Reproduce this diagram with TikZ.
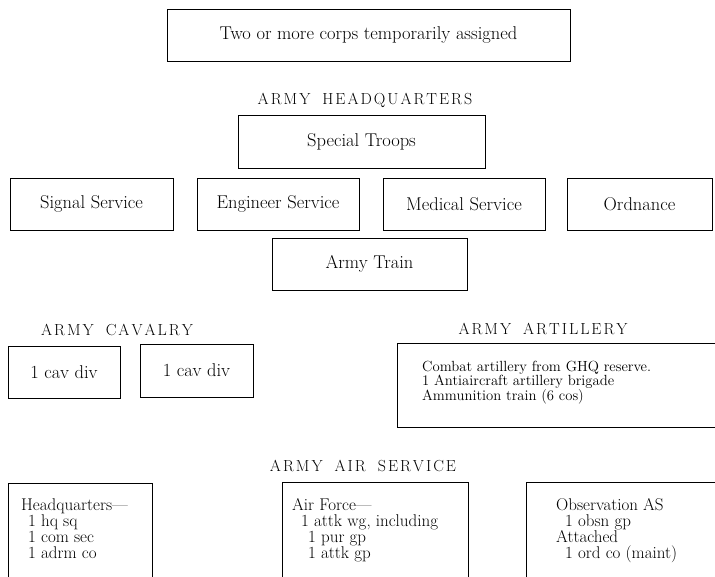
\documentclass[tikz,border=0pt]{standalone}
\usepackage{tikz}
\usetikzlibrary{positioning}
% spaced capitals for the headings
\def\spcaps#1{\spcapsi#1\relax}
\def\spcapsi#1{\ifx#1\relax\else#1\kern2pt\expandafter\spcapsi\fi}
\newcommand{\wgap}{\hspace{8pt}}
\tikzset{
  unitbox/.style={draw, line width=0.7pt, inner sep=0pt, font=\fontsize{18.5}{20}\selectfont},
  heading/.style={inner sep=0pt, font=\fontsize{16}{18}\selectfont},
  listtext/.style={anchor=north west, align=left, inner sep=0pt},
  openbox/.style={draw, line width=0.7pt, inner sep=0pt}
}

\begin{document}
\begin{tikzpicture}[x=1pt, y=-1pt]
\clip (0,0) rectangle (715,576);
\node[unitbox, minimum width=403, minimum height=52] (corps) at (368.5,35) {Two or more corps temporarily assigned};

\node[heading] (armyhq) at (366,100) {\spcaps{ARMY\wgap HEADQUARTERS}};
\node[unitbox, minimum width=247, minimum height=53] (sptroops) at (361.5,141.5) {Special Troops};
\node[unitbox, minimum width=163, minimum height=52] (sigsvc) at (91.5,204) {Signal Service};
\node[unitbox, minimum width=162, minimum height=52] (engsvc) at (278,204) {Engineer Service};
\node[unitbox, minimum width=162, minimum height=52] (medsvc) at (464,204) {Medical Service};
\node[unitbox, minimum width=145, minimum height=52] (ordn) at (639.5,204) {Ordnance};
\node[unitbox, minimum width=195, minimum height=52] (armytrain) at (369.5,264) {Army Train};

\node[heading] (armycav) at (118,330) {\spcaps{ARMY\wgap CAVALRY}};
\node[unitbox, minimum width=112, minimum height=52] (cavdiva) at (64,372) {1 cav div};
\node[unitbox, minimum width=113, minimum height=53] (cavdivb) at (196.5,370.5) {1 cav div};

\node[heading] (armyart) at (544,329) {\spcaps{ARMY\wgap ARTILLERY}};
\node[openbox, minimum width=333, minimum height=84] (artbox) at (563.5,385) {};
\node[listtext, font=\fontsize{14.7}{14}\selectfont] (arttext) at (422,361)
  {Combat artillery from GHQ reserve.\\1 Antiaircraft artillery brigade\\Ammunition train (6 cos)};

\node[heading] (airsvc) at (364,466) {\spcaps{ARMY\wgap AIR\wgap SERVICE}};
\node[openbox, minimum width=144, minimum height=116] (hqbox) at (80,541) {};
\node[openbox, minimum width=186, minimum height=116] (afbox) at (375,540) {};
\node[openbox, minimum width=204, minimum height=116] (obsbox) at (628,540) {};
\node[listtext, font=\fontsize{17}{16}\selectfont] (hqtext) at (21,498)
  {Headquarters---\\\hspace{7pt}1 hq sq\\\hspace{7pt}1 com sec\\\hspace{7pt}1 adrm co};
\node[listtext, font=\fontsize{17}{16}\selectfont] (aftext) at (292,498)
  {Air Force---\\\hspace{9pt}1 attk wg, including\\\hspace{16pt}1 pur gp\\\hspace{16pt}1 attk gp};
\node[listtext, font=\fontsize{17}{16}\selectfont] (obstext) at (556,498)
  {Observation AS\\\hspace{9pt}1 obsn gp\\Attached\\\hspace{9pt}1 ord co (maint)};
\end{tikzpicture}
\end{document}
